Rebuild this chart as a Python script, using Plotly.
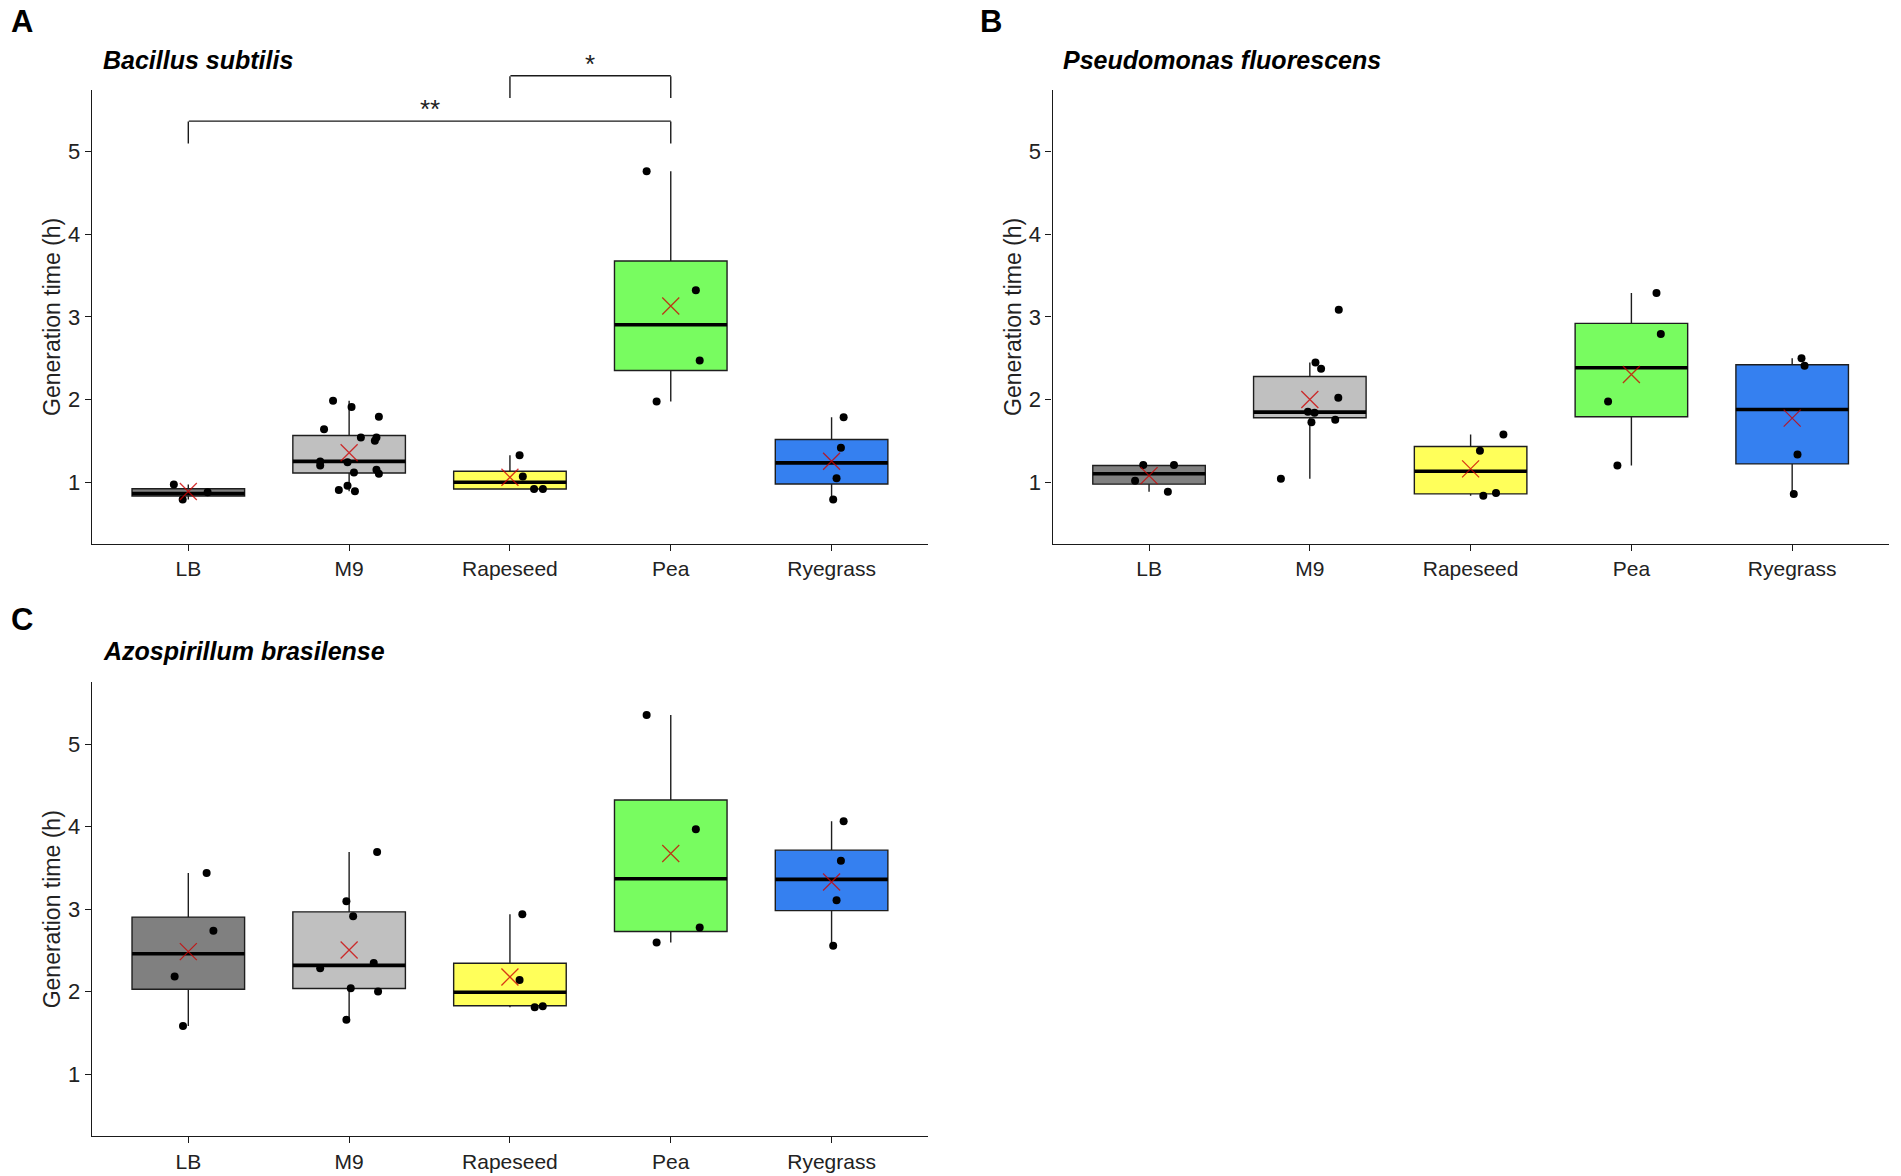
import plotly.graph_objects as go

# ---------------- data ----------------
categories = ["LB", "M9", "Rapeseed", "Pea", "Ryegrass"]
y_tick_values = [1, 2, 3, 4, 5]
y_title = "Generation time (h)"
panel_letters = ["A", "B", "C"]
panel_titles = ["Bacillus subtilis", "Pseudomonas fluorescens", "Azospirillum brasilense"]

# Panel A - Bacillus subtilis (box statistics per category)
a_q1 = [0.83, 1.11, 0.917, 2.35, 0.977]
a_median = [0.86, 1.25, 0.998, 2.905, 1.233]
a_q3 = [0.92, 1.564, 1.131, 3.676, 1.515]
a_lower = [0.79, 0.89, 0.917, 1.976, 0.788]
a_upper = [0.97, 1.985, 1.325, 4.764, 1.786]
a_mean = [0.885, 1.354, 1.058, 3.131, 1.252]
a_points = {
    "LB": [0.97, 0.79, 0.876],
    "M9": [1.985, 1.91, 1.79, 1.64, 1.54, 1.54, 1.50, 1.25, 1.20, 1.24, 1.115, 1.15, 1.10, 0.905, 0.955, 0.89],
    "Rapeseed": [1.325, 1.067, 0.917, 0.917],
    "Pea": [4.764, 3.321, 2.473, 1.976],
    "Ryegrass": [1.786, 1.414, 1.046, 0.788],
}
a_jitter = {
    "LB": [-0.09, -0.035, 0.12],
    "M9": [-0.10, 0.015, 0.185, -0.156, 0.073, 0.17, 0.16, -0.18, -0.18, -0.01, 0.03, 0.17, 0.185, -0.064, -0.01, 0.036],
    "Rapeseed": [0.06, 0.08, 0.15, 0.205],
    "Pea": [-0.15, 0.156, 0.18, -0.088],
    "Ryegrass": [0.075, 0.058, 0.031, 0.01],
}

# Panel B - Pseudomonas fluorescens
b_q1 = [0.975, 1.778, 0.857, 1.79, 1.22]
b_median = [1.10, 1.847, 1.131, 2.384, 1.879]
b_q3 = [1.20, 2.279, 1.43, 2.921, 2.42]
b_lower = [0.883, 1.039, 0.833, 1.20, 0.857]
b_upper = [1.206, 2.448, 1.576, 3.289, 2.50]
b_mean = [1.078, 2.0, 1.16, 2.303, 1.774]
b_points = {
    "LB": [1.206, 1.206, 1.016, 0.883],
    "M9": [3.087, 2.448, 2.372, 2.02, 1.85, 1.838, 1.725, 1.754, 1.039],
    "Rapeseed": [1.576, 1.378, 0.833, 0.869],
    "Pea": [3.289, 2.792, 1.976, 1.20],
    "Ryegrass": [2.50, 2.408, 1.333, 0.857],
}
b_jitter = {
    "LB": [-0.036, 0.155, -0.087, 0.117],
    "M9": [0.18, 0.035, 0.07, 0.177, -0.012, 0.029, 0.01, 0.158, -0.18],
    "Rapeseed": [0.204, 0.058, 0.079, 0.158],
    "Pea": [0.156, 0.183, -0.145, -0.087],
    "Ryegrass": [0.058, 0.077, 0.033, 0.01],
}

# Panel C - Azospirillum brasilense
c_q1 = [2.03, 2.039, 1.83, 2.731, 2.984]
c_median = [2.461, 2.32, 1.994, 3.371, 3.363]
c_q3 = [2.905, 2.969, 2.345, 4.325, 3.717]
c_lower = [1.584, 1.66, 1.813, 2.598, 2.558]
c_upper = [3.44, 3.693, 2.94, 5.356, 4.068]
c_mean = [2.487, 2.506, 2.18, 3.676, 3.331]
c_points = {
    "LB": [3.44, 2.739, 2.184, 1.584],
    "M9": [3.693, 3.098, 2.917, 2.349, 2.284, 2.042, 2.002, 1.66],
    "Rapeseed": [2.94, 2.144, 1.813, 1.825],
    "Pea": [5.356, 3.971, 2.779, 2.598],
    "Ryegrass": [4.068, 3.588, 3.11, 2.558],
}
c_jitter = {
    "LB": [0.114, 0.156, -0.085, -0.033],
    "M9": [0.174, -0.017, 0.025, 0.153, -0.18, 0.01, 0.18, -0.017],
    "Rapeseed": [0.077, 0.06, 0.154, 0.204],
    "Pea": [-0.15, 0.156, 0.18, -0.088],
    "Ryegrass": [0.075, 0.058, 0.031, 0.01],
}

# significance brackets (panel A): category indices, height, label
sig_left = [0, 2]
sig_right = [3, 3]
sig_height = [5.37, 5.92]
sig_label = ["**", "*"]

# ---------------- styling ----------------
FONT = "Liberation Sans, Arial, sans-serif"
box_fill = ["#808080", "#C0C0C0", "#FFFF5A", "#78FC60", "#3580F0"]
BOX_W = 0.7
TIP = 0.27
Y_RANGE = [0.25, 5.75]
X_RANGE = [-0.6, 4.6]

panels = [
    dict(q1=a_q1, med=a_median, q3=a_q3, lo=a_lower, hi=a_upper, mean=a_mean, pts=a_points, jit=a_jitter),
    dict(q1=b_q1, med=b_median, q3=b_q3, lo=b_lower, hi=b_upper, mean=b_mean, pts=b_points, jit=b_jitter),
    dict(q1=c_q1, med=c_median, q3=c_q3, lo=c_lower, hi=c_upper, mean=c_mean, pts=c_points, jit=c_jitter),
]
axis_ids = [("x", "y"), ("x2", "y2"), ("x3", "y3")]

fig = go.Figure()

for p, (xa, ya) in zip(panels, axis_ids):
    for i, cat in enumerate(categories):
        fig.add_trace(go.Box(
            x=[i], q1=[p["q1"][i]], median=[p["med"][i]], q3=[p["q3"][i]],
            lowerfence=[p["lo"][i]], upperfence=[p["hi"][i]],
            width=BOX_W, whiskerwidth=0, boxpoints=False,
            fillcolor=box_fill[i], line=dict(color="#1e1e1e", width=1.4),
            xaxis=xa, yaxis=ya, showlegend=False, hoverinfo="skip",
        ))
    # thick median lines
    mx, my = [], []
    for i in range(len(categories)):
        mx += [i - BOX_W / 2, i + BOX_W / 2, None]
        my += [p["med"][i], p["med"][i], None]
    fig.add_trace(go.Scatter(x=mx, y=my, mode="lines", line=dict(color="black", width=3.6),
                             xaxis=xa, yaxis=ya, showlegend=False, hoverinfo="skip"))
    # jittered observations
    px, py = [], []
    for i, cat in enumerate(categories):
        px += [i + j for j in p["jit"][cat]]
        py += p["pts"][cat]
    fig.add_trace(go.Scatter(x=px, y=py, mode="markers",
                             marker=dict(color="black", size=8),
                             xaxis=xa, yaxis=ya, showlegend=False, hoverinfo="skip"))
    # means
    fig.add_trace(go.Scatter(x=list(range(len(categories))), y=p["mean"], mode="markers",
                             marker=dict(symbol="x-thin", size=17,
                                         line=dict(color="rgba(205,0,0,0.78)", width=1.3)),
                             xaxis=xa, yaxis=ya, showlegend=False, hoverinfo="skip"))

x_domains = [[0.0483, 0.4882], [0.5537, 0.9935], [0.0483, 0.4882]]
y_domains = [[0.5374, 0.9237], [0.5374, 0.9237], [0.0339, 0.4197]]

layout_axes = {}
for k, (xd, yd) in enumerate(zip(x_domains, y_domains)):
    sfx = "" if k == 0 else str(k + 1)
    layout_axes["xaxis" + sfx] = dict(
        domain=xd, anchor="y" + sfx, range=X_RANGE,
        tickmode="array", tickvals=list(range(len(categories))), ticktext=categories,
        showline=True, linecolor="#1a1a1a", linewidth=1.4, mirror=False,
        ticks="outside", ticklen=6, tickwidth=1.4, tickcolor="#1a1a1a",
        showgrid=False, zeroline=False,
        tickfont=dict(family=FONT, size=21, color="#222222"),
    )
    layout_axes["yaxis" + sfx] = dict(
        domain=yd, anchor="x" + sfx, range=Y_RANGE,
        tickmode="array", tickvals=y_tick_values,
        showline=True, linecolor="#1a1a1a", linewidth=1.4,
        ticks="outside", ticklen=6, tickwidth=1.4, tickcolor="#1a1a1a",
        showgrid=False, zeroline=False,
        tickfont=dict(family=FONT, size=22, color="#222222"),
        title=dict(text=y_title, font=dict(family=FONT, size=23, color="#222222"), standoff=0),
    )

annotations = []
# panel letters and species titles
letter_pos = [(0.0116, 0.9813), (0.5213, 0.9813), (0.0116, 0.4728)]
title_pos = [(0.0531, 0.949), (0.5581, 0.949), (0.0531, 0.4464)]
for letter, (lx, ly) in zip(panel_letters, letter_pos):
    annotations.append(dict(text="<b>" + letter + "</b>", x=lx, y=ly, xref="paper", yref="paper",
                            xanchor="center", yanchor="middle", showarrow=False,
                            font=dict(family=FONT, size=31, color="black")))
for title, (tx, ty) in zip(panel_titles, title_pos):
    annotations.append(dict(text="<b><i>" + title + "</i></b>", x=tx, y=ty, xref="paper", yref="paper",
                            xanchor="left", yanchor="middle", showarrow=False,
                            font=dict(family=FONT, size=25, color="black")))


# significance brackets on panel A; they sit above the panel, so they are placed in
# "y domain" units (annotations there are not hidden or clipped when above the axis range)
def dom(v):
    return (v - Y_RANGE[0]) / (Y_RANGE[1] - Y_RANGE[0])


def line_ann(x_head, y_head, x_tail, y_tail):
    return dict(x=x_head, y=dom(y_head), ax=x_tail, ay=dom(y_tail),
                xref="x", yref="y domain", axref="x", ayref="y domain",
                text="", showarrow=True, arrowhead=0, arrowwidth=1.4, arrowcolor="#1a1a1a",
                standoff=0, startstandoff=0, borderpad=0, font=dict(size=1))


for l, r, h, lab in zip(sig_left, sig_right, sig_height, sig_label):
    annotations.append(line_ann(r, h, l, h))
    annotations.append(line_ann(l, h - TIP, l, h))
    annotations.append(line_ann(r, h - TIP, r, h))
    annotations.append(dict(text=lab, x=(l + r) / 2, y=dom(h), xref="x", yref="y domain",
                            xanchor="center", yanchor="bottom", yshift=-5, showarrow=False,
                            font=dict(family=FONT, size=26, color="#222222")))

fig.update_layout(
    width=1901, height=1176,
    margin=dict(l=0, r=0, t=0, b=0),
    paper_bgcolor="white", plot_bgcolor="white",
    showlegend=False,
    annotations=annotations,
    **layout_axes,
)

fig.write_html("out.html", config={"displayModeBar": False},
               post_script="document.body.style.margin='0';document.body.style.overflow='hidden';")
